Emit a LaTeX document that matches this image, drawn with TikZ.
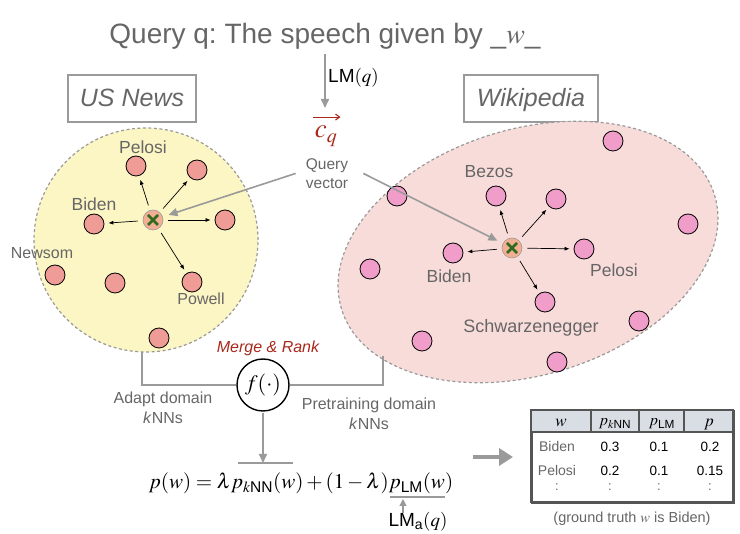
\documentclass[tikz,border=0pt]{standalone}
\usepackage{amsmath}
\usepackage{mathptmx}
\usepackage[no-math]{fontspec}
\setmainfont{Liberation Sans}
\setsansfont{Liberation Sans}
\usetikzlibrary{arrows.meta}
\definecolor{txtgray}{HTML}{666666}
\definecolor{lngray}{HTML}{9A9A9A}
\definecolor{ylw}{HTML}{FCF6C4}
\definecolor{pinkbg}{HTML}{F8DCDA}
\definecolor{salmon}{HTML}{F09C96}
\definecolor{pinkdot}{HTML}{F09DCA}
\definecolor{xfill}{HTML}{F2AF93}
\definecolor{xgreen}{HTML}{2F6A1F}
\definecolor{darkred}{HTML}{A8281C}
\definecolor{hdr}{HTML}{D9DEE4}
\definecolor{tblborder}{HTML}{555555}
\newcommand{\fs}[1]{\fontsize{#1}{#1}\selectfont}
\begin{document}
\frenchspacing
\begin{tikzpicture}[x=1pt,y=-1pt,
  every node/.style={inner sep=0pt, text=txtgray},
  lbl/.style={anchor=base, font=\fs{17.5}},
  slbl/.style={anchor=base, font=\fs{16}},
  sdot/.style={circle, draw=black, line width=0.8pt, fill=salmon, minimum size=20pt},
  pdot/.style={sdot, fill=pinkdot},
  xnode/.style={circle, draw=lngray, line width=0.6pt, fill=xfill, minimum size=20pt},
  xline/.style={draw=xgreen, line width=2.6pt},
  knn/.style={-{Latex[length=5pt,width=4pt]}, line width=0.7pt, draw=black, shorten <=5pt, shorten >=4pt},
  garrow/.style={-{Triangle[length=9pt,width=8pt]}, draw=lngray, line width=1.6pt},
  gline/.style={draw=lngray, line width=1.6pt},
  domainbox/.style={draw=lngray, line width=1.8pt, minimum width=128pt, minimum height=47pt},
  dashborder/.style={draw=lngray, line width=1.2pt, dash pattern=on 3pt off 2.5pt}]
\useasboundingbox (0,0) rectangle (740,534);

% title
\node[anchor=base, font=\fs{28}] (title) at (325,44) {Query q: The speech given by \_$w$\_};

% domain boxes
\node[domainbox] (usbox) at (132,98.5) {};
\node[anchor=base, font=\fs{25}\itshape] (ustxt) at (132,107) {US News};
\node[domainbox, minimum width=134pt] (wikibox) at (531,98.5) {};
\node[anchor=base, font=\fs{25}\itshape] (wikitxt) at (531,107) {Wikipedia};

% domain regions
\node[circle, dashborder, fill=ylw, minimum size=224pt] (usn) at (146,240) {};
\draw[dashborder, fill=pinkbg, rotate around={17:(528,252)}] (528,252) ellipse [x radius=195, y radius=123];
\coordinate (usbot) at (142,352);
\coordinate (wikibot) at (383,356);

% query
\node[anchor=base, text=darkred, font=\fs{27}] (cq) at (326,138) {$c_q$};
\draw[draw=darkred, line width=1.1pt, -{Straight Barb[length=4pt,width=6pt]}]
  ([xshift=-2pt,yshift=9pt]cq.north west) -- ([xshift=3pt,yshift=9pt]cq.north east);
\coordinate (lmend) at (325,108);
\draw[garrow, shorten <=4pt] (title.south -| lmend) -- (lmend);
\node[anchor=west, text=black, font=\fs{19}] (lmq) at (328,78) {LM$(q)$};
\node[anchor=base, font=\fs{15.5}] (qv) at (327,170) {Query};
\node[anchor=base, font=\fs{15.5}] (qv2) at (327,189) {vector};

% US News points
\node[xnode] (xus) at (153,220) {};
\draw[xline] (148,215) -- (158,225) (148,225) -- (158,215);
\node[sdot] (us1) at (136,166) {};
\node[sdot] (us2) at (197,170) {};
\node[sdot] (us3) at (225,220) {};
\node[sdot] (us4) at (94,224) {};
\node[sdot] (us5) at (55,275) {};
\node[sdot] (us6) at (115,283) {};
\node[sdot] (us7) at (192,282) {};
\node[sdot] (us8) at (159,338) {};
\node[lbl] at (143,154) {Pelosi};
\node[lbl] at (94,211) {Biden};
\node[slbl] at (42,259) {Newsom};
\node[slbl] at (201,305) {Powell};
\draw[knn] (xus) -- (us1);
\draw[knn] (xus) -- (us2);
\draw[knn] (xus) -- (us3);
\draw[knn] (xus) -- (us4);
\draw[knn] (xus) -- (us7);

% Wikipedia points
\node[xnode] (xwk) at (512,248) {};
\draw[xline] (507,243) -- (517,253) (507,253) -- (517,243);
\node[pdot] (wk1) at (613,141) {};
\node[pdot] (wk2) at (397,196) {};
\node[pdot] (wk3) at (496,196) {};
\node[pdot] (wk4) at (556,199) {};
\node[pdot] (wk5) at (688,224) {};
\node[pdot] (wk6) at (453,253) {};
\node[pdot] (wk7) at (584,249) {};
\node[pdot] (wk8) at (370,269) {};
\node[pdot] (wk9) at (545,302) {};
\node[pdot] (wk10) at (639,321) {};
\node[pdot] (wk11) at (422,341) {};
\node[pdot] (wk12) at (557,362) {};
\node[lbl] at (489,178) {Bezos};
\node[lbl] at (449,283) {Biden};
\node[lbl] at (614,277) {Pelosi};
\node[lbl, font=\fs{18}] at (531,333) {Schwarzenegger};
\draw[knn] (xwk) -- (wk3);
\draw[knn] (xwk) -- (wk4);
\draw[knn] (xwk) -- (wk7);
\draw[knn] (xwk) -- (wk6);
\draw[knn] (xwk) -- (wk9);

% query vector arrows
\draw[garrow, shorten >=6pt] ([xshift=-10pt]qv.south west) -- (xus);
\draw[garrow, shorten >=6pt] ([xshift=15pt]qv.south east) -- (xwk);

% merge
\node[circle, draw=black, line width=1.4pt, minimum size=52pt, text=black, font=\fs{22}] (f) at (263,385) {$f(\cdot)$};
\node[anchor=base, text=darkred, font=\fs{16}\itshape] (mr) at (268,353) {Merge \& Rank};
\draw[gline] (usbot) |- (f.west);
\draw[gline] (wikibot) |- (f.east);
\node[anchor=base, font=\fs{16}] (adapt) at (163,404) {Adapt domain};
\node[anchor=base, font=\fs{16}] (adapt2) at (163,424) {\textit{k}NNs};
\node[anchor=base, font=\fs{16}] (pretr) at (369,410) {Pretraining domain};
\node[anchor=base, font=\fs{16}] (pretr2) at (369,430) {\textit{k}NNs};

% equation
\node[anchor=base, text=black, font=\fs{21}] (eq) at (301,489) {$p(w) = \lambda p_{k\text{NN}}(w) + (1-\lambda)p_{\text{LM}}(w)$};
\coordinate (ovl) at (238,463);
\coordinate (ovr) at (293,463);
\coordinate (unl) at (390,497);
\coordinate (unr) at (445,497);
\draw[gline, line width=1.2pt] (ovl) -- (ovr);
\draw[gline, line width=1.2pt] (unl) -- (unr);
\draw[garrow, shorten <=1pt] (f.south) -- (f.south |- ovl);
\node[anchor=base, text=black, font=\fs{19}] (lma) at (418,527) {LM$_\text{a}(q)$};
\coordinate (lmaarr) at (403,499);
\draw[garrow, line width=1.2pt, -{Triangle[length=7pt,width=7pt]}] (lma.north -| lmaarr) -- (lmaarr);

% table
\node[draw=tblborder, line width=2pt, minimum width=202pt, minimum height=92pt, anchor=north west] (tbl) at (531,410) {};
\fill[hdr] (532,411) rectangle (732,432);
\draw[draw=tblborder, line width=2pt] (531,410) rectangle (733,502);
\draw[draw=tblborder, line width=2pt] (531,432) -- (733,432);
\draw[draw=tblborder, line width=1.6pt] (591,410) -- (591,432) (639,410) -- (639,432) (684,410) -- (684,432);
\node[anchor=base, text=black, font=\fs{17}] at (561,427) {$w$};
\node[anchor=base, text=black, font=\fs{16}] at (615,426) {$p_{k\text{NN}}$};
\node[anchor=base, text=black, font=\fs{16}] at (662,426) {$p_{\text{LM}}$};
\node[anchor=base, text=black, font=\fs{17}] at (709,427) {$p$};
\node[anchor=base, font=\fs{14}] at (557,452) {Biden};
\node[anchor=base, font=\fs{14}] at (557,476) {Pelosi};
\node[anchor=base, text=black, font=\fs{13.5}] at (610,452) {0.3};
\node[anchor=base, text=black, font=\fs{13.5}] at (659,452) {0.1};
\node[anchor=base, text=black, font=\fs{13.5}] at (710,452) {0.2};
\node[anchor=base, text=black, font=\fs{13.5}] at (610,476) {0.2};
\node[anchor=base, text=black, font=\fs{13.5}] at (659,476) {0.1};
\node[anchor=base, text=black, font=\fs{13.5}] at (710,476) {0.15};
\foreach \cx in {557,610,659,710} {\node[anchor=base, font=\fs{13}] at (\cx,491) {:};}
\node[anchor=base, font=\fs{14.5}] (cap) at (632,523) {(ground truth $w$ is Biden)};
\draw[draw=lngray, line width=4.5pt, -{Triangle[length=14pt,width=17pt]}, shorten <=20pt, shorten >=18pt] (eq.east |- tbl.west) -- (tbl.west);
\end{tikzpicture}
\end{document}
